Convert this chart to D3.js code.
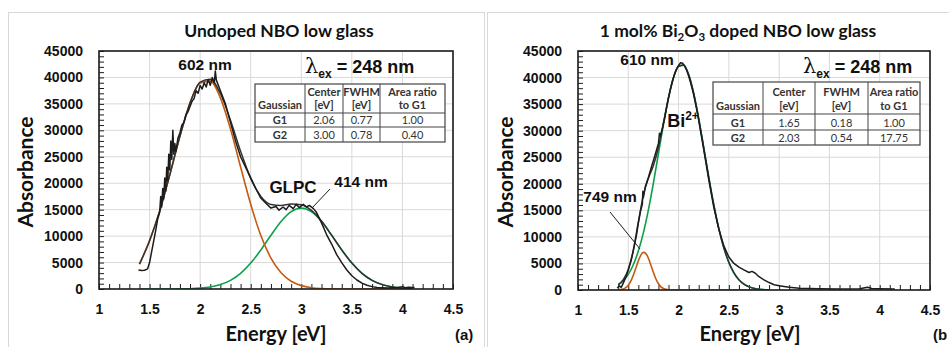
<!DOCTYPE html>
<html><head><meta charset="utf-8">
<script src="https://cdn.jsdelivr.net/npm/d3@7"></script>
<style>body{margin:0;background:#fff}svg{display:block}</style>
</head><body>
<script>
// ---------- data ----------
const xTickValues = [1, 1.5, 2, 2.5, 3, 3.5, 4, 4.5];
const yTickValues = [0, 5000, 10000, 15000, 20000, 25000, 30000, 35000, 40000, 45000];

// Panel (a): undoped
const leftFitEnergy = [1.4,1.5,1.6,1.7,1.8,1.9,2.0,2.1,2.2,2.3,2.4,2.5,2.6,2.7,2.8,2.9,3.0,3.1,3.2,3.3,3.4,3.5,3.6,3.7,3.8,3.9,4.0,4.1];
const leftG1 = [4700,9140,14730,21600,28870,35130,38940,39300,36130,30250,23070,16020,10130,5840,3060,1460,640,250,90,30,10,0,0,0,0,0,0,0];
const leftG2 = [0,0,2,7,22,61,160,380,830,1640,2960,4900,7380,10150,12750,14620,15300,14620,12750,10150,7380,4900,2960,1640,830,380,160,61];
const leftSum = [4700,9140,14730,21610,28890,35190,39100,39680,36960,31890,26030,20920,17510,15990,15810,16080,15940,14870,12840,10180,7390,4900,2960,1640,830,380,160,61];
const leftDataEnergy = [1.39,1.42,1.45,1.48,1.50,1.52,1.54,1.56,1.58,1.60,1.61,1.62,1.63,1.64,1.65,1.66,1.67,1.68,1.69,1.70,1.71,1.72,1.73,1.74,1.75,1.76,1.78,1.80,1.82,1.84,1.86,1.88,1.90,1.92,1.94,1.96,1.98,2.00,2.02,2.04,2.06,2.08,2.10,2.12,2.14,2.15,2.16,2.18,2.20,2.25,2.30,2.35,2.40,2.45,2.50,2.55,2.60,2.65,2.70,2.75,2.78,2.82,2.85,2.88,2.92,2.95,2.98,3.02,3.05,3.08,3.12,3.15,3.20,3.25,3.30,3.35,3.40,3.45,3.50,3.55,3.60,3.65,3.70,3.75,3.80,3.85,3.90,3.95,4.00,4.03,4.06,4.10,4.12];
const leftDataValue = [3600,3500,3550,3800,5000,7000,9000,11000,13200,14500,17500,15500,19000,17000,21000,18500,23000,20500,25500,22500,28000,24500,30000,25500,27500,26000,28500,29500,31000,31500,33000,33500,34500,35500,36000,37500,37000,38500,37800,39000,38200,39600,38500,40000,39000,41200,39500,38500,37500,35000,31500,28000,25000,23000,21000,19000,17200,16200,15300,15600,14900,15500,15000,15800,15200,16000,15400,16000,15500,15800,15200,14500,12500,10300,8500,6500,5000,3600,2500,1700,1100,700,450,300,250,200,250,300,450,250,350,300,300];

// Panel (b): Bi2O3 doped
const rightG1Energy = [1.400,1.425,1.450,1.475,1.500,1.525,1.550,1.575,1.600,1.625,1.650,1.675,1.700,1.725,1.750,1.775,1.800,1.825,1.850,1.875,1.900,1.95,2.0,2.2,2.4,2.6,2.8];
const rightG1 = [27,77,195,444,909,1672,2764,4106,5480,6574,7085,6861,5970,4669,3280,2070,1174,599,274,113,42,4,0,0,0,0,0];
const rightFitEnergy = [1.40,1.45,1.50,1.55,1.60,1.65,1.70,1.75,1.80,1.85,1.90,1.95,2.00,2.05,2.10,2.15,2.20,2.25,2.30,2.35,2.40,2.45,2.50,2.55,2.60,2.65,2.70,2.75,2.80,2.90];
const rightG2 = [976,1734,2940,4752,7327,10765,15088,20166,25700,31233,36189,39988,42138,42338,40566,37060,32287,26822,21250,16052,11560,7943,5202,3247,1933,1099,595,307,151,32];
const rightSum = [1003,1929,3849,7516,12807,17850,21058,23446,26874,31507,36231,39992,42138,42338,40566,37060,32287,26822,21250,16052,11560,7943,5202,3247,1933,1099,595,307,151,32];
const rightDataEnergy = [1.39,1.41,1.43,1.45,1.48,1.50,1.53,1.55,1.58,1.60,1.62,1.64,1.645,1.65,1.67,1.70,1.72,1.74,1.76,1.78,1.80,1.81,1.82,1.84,1.86,1.88,1.90,1.92,1.94,1.96,1.98,2.00,2.02,2.04,2.06,2.08,2.10,2.12,2.15,2.18,2.20,2.25,2.30,2.35,2.40,2.45,2.50,2.55,2.60,2.65,2.70,2.73,2.76,2.80,2.85,2.90,2.95,3.00,3.10,3.20,3.40,3.60,3.80,3.88,3.92,4.00,4.15];
const rightDataValue = [350,800,500,1300,2600,3800,5700,7400,10200,12600,14700,16200,18600,17400,19500,21200,22500,23800,25000,26300,27600,29500,29000,30500,32200,34200,36200,37900,39400,40700,41600,42300,42800,42700,42200,41400,40300,39000,36800,34000,32000,26500,20800,15600,11500,8300,6200,5000,4300,3800,3300,3500,3200,2500,1900,1400,1000,800,500,350,250,200,250,500,300,250,200];

// tables
const tableHeader = [["", "Gaussian"], ["Center", "[eV]"], ["FWHM", "[eV]"], ["Area ratio", "to G1"]];
const leftTableRows = [["G1", "2.06", "0.77", "1.00"], ["G2", "3.00", "0.78", "0.40"]];
const rightTableRows = [["G1", "1.65", "0.18", "1.00"], ["G2", "2.03", "0.54", "17.75"]];

// ---------- drawing ----------
const W = 949, H = 347;
const svg = d3.select("body").append("svg").attr("width", W).attr("height", H);
const ORANGE = "#c55a11", GREEN = "#0a9f48", BLACK = "#1c1c1c", GRID = "#d9d9d9";
const TICKFONT = "'Liberation Sans', Arial, sans-serif";
const TITLEFONT = "Lato, 'Open Sans', sans-serif";

// panel outlines
svg.append("rect").attr("x", 8.5).attr("y", 12.5).attr("width", 476).attr("height", 345)
  .attr("fill", "none").attr("stroke", "#d9d9d9");
svg.append("rect").attr("x", 487.5).attr("y", 12.5).attr("width", 480).attr("height", 345)
  .attr("fill", "none").attr("stroke", "#d9d9d9");

function zip(e, v) { return e.map((d, i) => [d, v[i]]); }

function drawPanel(cfg) {
  const g = svg.append("g");
  const x = d3.scaleLinear().domain([1, 4.5]).range([cfg.left, cfg.right]);
  const y = d3.scaleLinear().domain([0, 45000]).range([cfg.bottom, cfg.top]);

  // grid
  g.append("g").selectAll("line.v").data(xTickValues).join("line")
    .attr("x1", d => x(d)).attr("x2", d => x(d)).attr("y1", cfg.top).attr("y2", cfg.bottom)
    .attr("stroke", GRID).attr("stroke-width", 1);
  g.append("g").selectAll("line.h").data(yTickValues).join("line")
    .attr("y1", d => y(d)).attr("y2", d => y(d)).attr("x1", cfg.left).attr("x2", cfg.right)
    .attr("stroke", GRID).attr("stroke-width", 1);

  // minor inside ticks
  const xMinor = d3.range(10, 46).map(d => d / 10);
  const yMinor = d3.range(0, 46).map(d => d * 1000);
  g.append("g").attr("transform", `translate(0,${cfg.bottom})`)
    .call(d3.axisBottom(x).tickValues(xMinor).tickSize(-5).tickFormat(""))
    .call(s => s.select(".domain").remove())
    .call(s => s.selectAll("line").attr("stroke", BLACK).attr("stroke-width", 1));
  g.append("g").attr("transform", `translate(${cfg.left},0)`)
    .call(d3.axisLeft(y).tickValues(yMinor).tickSize(-5).tickFormat(""))
    .call(s => s.select(".domain").remove())
    .call(s => s.selectAll("line").attr("stroke", BLACK).attr("stroke-width", 1));

  // labels
  g.append("g").attr("transform", `translate(0,${cfg.bottom})`)
    .call(d3.axisBottom(x).tickValues(xTickValues).tickSize(0).tickPadding(15).tickFormat(d3.format("")))
    .call(s => s.select(".domain").remove())
    .call(s => s.selectAll("text").attr("font-family", TICKFONT).attr("font-weight", "bold")
      .attr("font-size", 14).attr("fill", "#111"));
  g.append("g").attr("transform", `translate(${cfg.left},0)`)
    .call(d3.axisLeft(y).tickValues(yTickValues).tickSize(0).tickPadding(cfg.left - cfg.yLabelRight).tickFormat(d3.format("d")))
    .call(s => s.select(".domain").remove())
    .call(s => s.selectAll("text").attr("font-family", TICKFONT).attr("font-weight", "bold")
      .attr("font-size", 14).attr("fill", "#111"));

  // curves
  const smooth = d3.line().x(d => x(d[0])).y(d => y(d[1])).curve(d3.curveMonotoneX);
  const raw = d3.line().x(d => x(d[0])).y(d => y(d[1]));
  const clipId = "clip" + cfg.id;
  svg.append("clipPath").attr("id", clipId).append("rect")
    .attr("x", cfg.left).attr("y", cfg.top).attr("width", cfg.right - cfg.left).attr("height", cfg.bottom - cfg.top);
  const cg = g.append("g").attr("clip-path", `url(#${clipId})`);
  cg.append("path").attr("d", smooth(zip(cfg.g2E, cfg.g2))).attr("fill", "none").attr("stroke", GREEN).attr("stroke-width", 1.6);
  cg.append("path").attr("d", smooth(zip(cfg.g1E, cfg.g1))).attr("fill", "none").attr("stroke", ORANGE).attr("stroke-width", 1.6);
  cg.append("path").attr("d", smooth(zip(cfg.sumE, cfg.sum))).attr("fill", "none").attr("stroke", "#333").attr("stroke-width", 1.5);
  cg.append("path").attr("d", raw(zip(cfg.dataE, cfg.data))).attr("fill", "none").attr("stroke", BLACK).attr("stroke-width", 1.5).attr("stroke-linejoin", "round");

  // frame
  g.append("rect").attr("x", cfg.left).attr("y", cfg.top).attr("width", cfg.right - cfg.left).attr("height", cfg.bottom - cfg.top)
    .attr("fill", "none").attr("stroke", BLACK).attr("stroke-width", 1.6);

  // titles
  g.append("text").attr("x", cfg.titleX).attr("y", 37).attr("text-anchor", "middle")
    .attr("font-family", TITLEFONT).attr("font-weight", "bold").attr("font-size", 17.5).attr("fill", "#111")
    .call(cfg.title);
  g.append("text").attr("x", cfg.xTitleX).attr("y", 341).attr("text-anchor", "middle")
    .attr("font-family", TITLEFONT).attr("font-weight", "bold").attr("font-size", 20).attr("fill", "#111")
    .text("Energy [eV]");
  g.append("text").attr("transform", `translate(${cfg.yTitleX},172) rotate(-90)`).attr("text-anchor", "middle")
    .attr("font-family", TITLEFONT).attr("font-weight", "bold").attr("font-size", 21).attr("fill", "#111")
    .text("Absorbance");
  g.append("text").attr("x", cfg.tagX).attr("y", 340).attr("font-family", TICKFONT).attr("font-weight", "bold")
    .attr("font-size", 15).attr("fill", "#111").text(cfg.tag);

  // lambda_ex
  const lt = g.append("text").attr("x", cfg.lambdaX).attr("y", 73).attr("fill", "#111")
    .attr("font-family", TICKFONT).attr("font-weight", "bold").attr("font-size", 18);
  lt.append("tspan").attr("font-family", "'DejaVu Serif', serif").attr("font-weight", "normal").attr("font-size", 21).text("λ");
  lt.append("tspan").attr("font-size", 12).attr("dy", 5).text("ex");
  lt.append("tspan").attr("dy", -5).text(" = 248 nm");

  // table
  const t = cfg.table;
  const tg = g.append("g");
  tg.append("rect").attr("x", t.cols[0]).attr("y", t.rows[0]).attr("width", t.cols[4] - t.cols[0])
    .attr("height", t.rows[3] - t.rows[0]).attr("fill", "#fff").attr("stroke", "#444").attr("stroke-width", 1.2);
  t.cols.slice(1, 4).forEach(cx => tg.append("line").attr("x1", cx).attr("x2", cx).attr("y1", t.rows[0]).attr("y2", t.rows[3])
    .attr("stroke", "#444").attr("stroke-width", 1));
  t.rows.slice(1, 3).forEach(ry => tg.append("line").attr("y1", ry).attr("y2", ry).attr("x1", t.cols[0]).attr("x2", t.cols[4])
    .attr("stroke", "#444").attr("stroke-width", 1));
  tableHeader.forEach((h, i) => {
    const cx = (t.cols[i] + t.cols[i + 1]) / 2;
    h.forEach((s, j) => {
      if (!s) return;
      tg.append("text").attr("x", cx).attr("y", t.hb[j]).attr("text-anchor", "middle")
        .attr("font-family", TITLEFONT).attr("font-weight", "bold").attr("font-size", 11).attr("fill", "#333").text(s);
    });
  });
  t.data.forEach((r, ri) => {
    r.forEach((s, ci) => {
      const cx = (t.cols[ci] + t.cols[ci + 1]) / 2;
      tg.append("text").attr("x", cx).attr("y", t.rows[ri + 2] - 3.5).attr("text-anchor", "middle")
        .attr("font-family", TITLEFONT).attr("font-weight", ci === 0 ? "bold" : "normal")
        .attr("font-size", 11).attr("fill", "#333").text(s);
    });
  });

  // annotations
  cfg.annotations.forEach(a => {
    if (a.line) g.append("line").attr("x1", a.line[0]).attr("y1", a.line[1]).attr("x2", a.line[2]).attr("y2", a.line[3])
      .attr("stroke", BLACK).attr("stroke-width", 1);
    const tx = g.append("text").attr("x", a.x).attr("y", a.y).attr("text-anchor", "middle")
      .attr("font-family", TICKFONT).attr("font-weight", "bold").attr("font-size", a.size || 15.5).attr("fill", "#111");
    if (a.sup) {
      tx.append("tspan").text(a.text);
      tx.append("tspan").attr("font-size", 12).attr("dy", -7).text(a.sup);
    } else tx.text(a.text);
  });
}

drawPanel({
  id: "a", left: 99, right: 453, top: 51, bottom: 289, yLabelRight: 83,
  titleX: 279, title: s => s.text("Undoped NBO low glass"),
  xTitleX: 276, yTitleX: 33, tag: "(a)", tagX: 455, lambdaX: 305,
  g1E: leftFitEnergy, g1: leftG1, g2E: leftFitEnergy, g2: leftG2, sumE: leftFitEnergy, sum: leftSum,
  dataE: leftDataEnergy, data: leftDataValue,
  table: { cols: [255, 305, 343, 380, 445], rows: [84, 113, 127, 142], hb: [96, 109], data: leftTableRows },
  annotations: [
    { text: "602 nm", x: 205, y: 70 },
    { text: "GLPC", x: 293, y: 193, size: 17 },
    { text: "414 nm", x: 361, y: 187, line: [330, 189, 312, 208] }
  ]
});

drawPanel({
  id: "b", left: 578, right: 930, top: 51, bottom: 290, yLabelRight: 562,
  titleX: 738,
  title: s => {
    s.append("tspan").text("1 mol% Bi");
    s.append("tspan").attr("font-size", 11.5).attr("dy", 4).text("2");
    s.append("tspan").attr("dy", -4).text("O");
    s.append("tspan").attr("font-size", 11.5).attr("dy", 4).text("3");
    s.append("tspan").attr("dy", -4).text(" doped NBO low glass");
  },
  xTitleX: 750, yTitleX: 513, tag: "(b", tagX: 933, lambdaX: 803,
  g1E: rightG1Energy, g1: rightG1, g2E: rightFitEnergy, g2: rightG2, sumE: rightFitEnergy, sum: rightSum,
  dataE: rightDataEnergy, data: rightDataValue,
  table: { cols: [713, 763, 815, 868, 920], rows: [82, 114, 130, 145], hb: [96, 110], data: rightTableRows },
  annotations: [
    { text: "610 nm", x: 647, y: 65 },
    { text: "Bi", sup: "2+", x: 683, y: 127, size: 18 },
    { text: "749 nm", x: 610, y: 202, line: [610, 212, 640, 249] }
  ]
});
</script>
</body></html>
